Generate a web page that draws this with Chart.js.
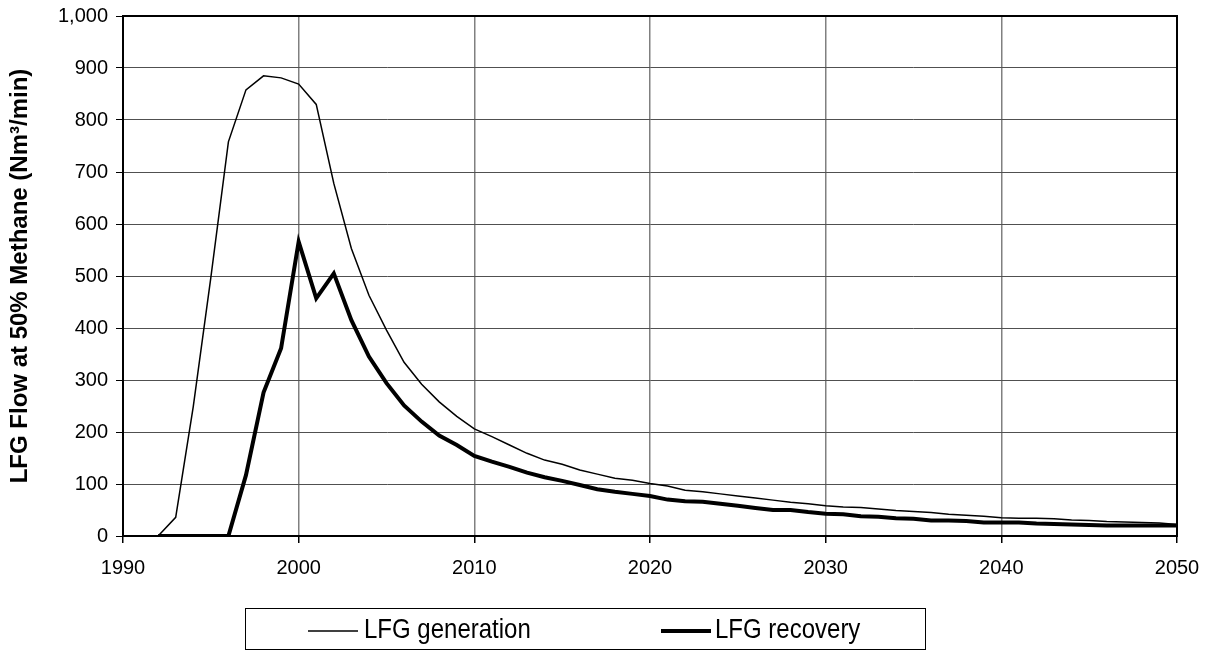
<!DOCTYPE html>
<html>
<head>
<meta charset="utf-8">
<script src="https://cdn.jsdelivr.net/npm/chart.js@4.4.1/dist/chart.umd.min.js"></script>
<style>
  html, body { margin: 0; padding: 0; background: #fff; }
  #wrap { width: 1209px; height: 652px; }
</style>
</head>
<body>
<div id="wrap"><canvas id="c" width="1209" height="652"></canvas></div>
<script>
const years = [1992,1993,1994,1995,1996,1997,1998,1999,2000,2001,2002,2003,2004,2005,2006,2007,2008,2009,2010,
  2011,2012,2013,2014,2015,2016,2017,2018,2019,2020,2021,2022,2023,2024,2025,2026,2027,2028,2029,2030,
  2031,2032,2033,2034,2035,2036,2037,2038,2039,2040,2041,2042,2043,2044,2045,2046,2047,2048,2049,2050];

const generation = [0,36,249,497,758,858,885,881,869,830,678,553,463,396,334,292,258,230,206,
  191,175,159,146,138,127,119,111,107,101,96,88,85,81,77,73,69,65,62,58,
  56,55,52,49,47,45,42,40,38,35,34,34,33,31,30,28,27,26,25,22];

const recovery = [0,0,0,0,0,117,276,361,566,457,505,415,345,294,251,220,193,175,154,
  143,133,122,113,106,98,90,85,81,77,70,67,66,62,58,54,50,50,46,43,
  42,38,37,34,33,30,30,29,26,26,26,24,23,22,21,20,20,20,20,20];

const xTicks = [1990, 2000, 2010, 2020, 2030, 2040, 2050];
const yTitle = 'LFG Flow at 50% Methane (Nm\u00B3/min)';
const seriesNames = ['LFG generation', 'LFG recovery'];

const toPts = (arr) => years.map((yr, i) => ({ x: yr, y: arr[i] }));

const framePlugin = {
  id: 'frame',
  afterDatasetsDraw(chart) {
    const { ctx, chartArea: a } = chart;
    ctx.save();
    ctx.strokeStyle = '#000';
    ctx.lineWidth = 2;
    ctx.strokeRect(a.left, a.top, a.right - a.left, a.bottom - a.top);
    ctx.restore();
  }
};

const legendPlugin = {
  id: 'boxLegend',
  afterDraw(chart) {
    const { ctx } = chart;
    const ds = chart.data.datasets;
    ctx.save();
    ctx.strokeStyle = '#000';
    ctx.lineWidth = 1;
    ctx.strokeRect(245.5, 608.5, 680, 41);
    const items = [
      { x1: 308, x2: 358, tx: 364 },
      { x1: 661, x2: 711, tx: 715 }
    ];
    ctx.font = '24px "Liberation Sans", Arial, sans-serif';
    ctx.textBaseline = 'alphabetic';
    ctx.textAlign = 'left';
    ctx.fillStyle = '#000';
    items.forEach((it, i) => {
      ctx.beginPath();
      ctx.lineWidth = ds[i].borderWidth;
      ctx.strokeStyle = ds[i].borderColor;
      ctx.moveTo(it.x1, 631);
      ctx.lineTo(it.x2, 631);
      ctx.stroke();
      ctx.save();
      ctx.translate(it.tx, 638);
      ctx.scale(1, 1.17);
      ctx.fillText(ds[i].label, 0, 0);
      ctx.restore();
    });
    ctx.restore();
  }
};

new Chart(document.getElementById('c'), {
  type: 'line',
  data: {
    datasets: [
      { label: seriesNames[0], data: toPts(generation), borderColor: '#000', borderWidth: 1.5,
        pointRadius: 0, tension: 0, fill: false },
      { label: seriesNames[1], data: toPts(recovery), borderColor: '#000', borderWidth: 4,
        pointRadius: 0, tension: 0, fill: false, borderJoinStyle: 'miter' }
    ]
  },
  options: {
    responsive: false,
    animation: false,
    devicePixelRatio: 1,
    layout: { padding: { left: 0, right: 32, top: 16, bottom: 0 } },
    plugins: { legend: { display: false }, tooltip: { enabled: false } },
    scales: {
      x: {
        type: 'linear', min: 1990, max: 2050,
        afterBuildTicks: (s) => { s.ticks = xTicks.map(v => ({ value: v })); },
        afterFit: (s) => { s.height = 116; s.paddingLeft = 0; s.paddingRight = 0; },
        ticks: { callback: (v) => String(v), color: '#000', padding: 13,
          font: { family: '"Liberation Sans", Arial, sans-serif', size: 20 }, maxRotation: 0 },
        grid: { color: (c) => (c.tick && (c.tick.value === 1990 || c.tick.value === 2050)) ? 'rgba(0,0,0,0)' : '#808080',
          lineWidth: 1.5, tickColor: '#000', tickLength: 7, drawTicks: true },
        border: { color: '#000', width: 2 }
      },
      y: {
        min: 0, max: 1000,
        afterFit: (s) => { s.width = 123; s.paddingTop = 0; s.paddingBottom = 0; },
        ticks: { stepSize: 100, color: '#000', padding: 8,
          font: { family: '"Liberation Sans", Arial, sans-serif', size: 20 } },
        grid: { color: (c) => (c.tick && (c.tick.value === 0 || c.tick.value === 1000)) ? 'rgba(0,0,0,0)' : '#505050',
          lineWidth: 1, tickColor: '#000', tickLength: 7 },
        border: { color: '#000', width: 2 },
        title: { display: true, text: yTitle, color: '#000', padding: { top: 6, bottom: 0 },
          font: { family: '"Liberation Sans", Arial, sans-serif', size: 24, weight: 'bold' } }
      }
    }
  },
  plugins: [framePlugin, legendPlugin]
});
</script>
</body>
</html>
